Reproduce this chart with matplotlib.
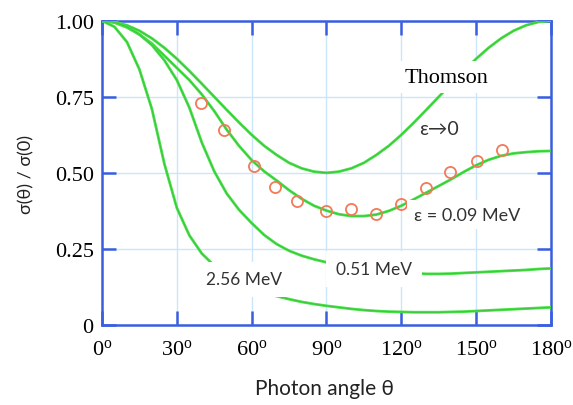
import numpy as np
import matplotlib
matplotlib.use('Agg')
from matplotlib import pyplot as plt

plt.rcParams['mathtext.fontset'] = 'custom'
plt.rcParams['mathtext.rm'] = 'Liberation Serif'

#Photon angle (deg) and sigma(theta)/sigma(0):
theta = [0, 5, 10, 15, 20, 25, 30, 35, 40, 45, 50, 55, 60, 65, 70, 75, 80, 85, 90,
         95, 100, 105, 110, 115, 120, 125, 130, 135, 140, 145, 150, 155, 160, 165, 170, 175, 180]
thomson = [1.000, 0.996, 0.985, 0.967, 0.942, 0.911, 0.875, 0.835, 0.793, 0.750, 0.707, 0.665, 0.625,
           0.589, 0.559, 0.533, 0.515, 0.504, 0.500, 0.504, 0.515, 0.533, 0.559, 0.589, 0.625,
           0.665, 0.707, 0.750, 0.793, 0.835, 0.875, 0.911, 0.942, 0.967, 0.985, 0.996, 1.000]
e009 = [1.000, 0.994, 0.978, 0.955, 0.925, 0.885, 0.845, 0.805, 0.758, 0.703, 0.642, 0.588, 0.542,
        0.505, 0.475, 0.443, 0.415, 0.392, 0.376, 0.364, 0.358, 0.358, 0.363, 0.375, 0.392,
        0.413, 0.435, 0.457, 0.479, 0.503, 0.525, 0.543, 0.556, 0.564, 0.568, 0.571, 0.572]
e051 = [1.000, 0.995, 0.980, 0.955, 0.920, 0.870, 0.805, 0.715, 0.600, 0.505, 0.432, 0.378, 0.335,
        0.296, 0.266, 0.244, 0.228, 0.216, 0.206, 0.198, 0.191, 0.185, 0.180, 0.176, 0.173,
        0.170, 0.168, 0.168, 0.169, 0.171, 0.173, 0.175, 0.177, 0.179, 0.181, 0.184, 0.186]
e256 = [1.000, 0.980, 0.930, 0.840, 0.710, 0.530, 0.385, 0.295, 0.235, 0.195, 0.165, 0.141, 0.122,
        0.107, 0.095, 0.085, 0.076, 0.069, 0.063, 0.058, 0.053, 0.049, 0.046, 0.044, 0.043,
        0.042, 0.042, 0.042, 0.043, 0.044, 0.046, 0.048, 0.050, 0.052, 0.054, 0.056, 0.058]

#Measured points at 0.09 MeV:
pt_theta = [39.5, 49, 61, 69.5, 78, 90, 100, 110, 120, 130, 139.5, 150.5, 160.5]
pt_ratio = [0.730, 0.641, 0.524, 0.455, 0.409, 0.376, 0.380, 0.365, 0.398, 0.451, 0.502, 0.539, 0.576]

xticks = [0, 30, 60, 90, 120, 150, 180]
yticks = [0, 0.25, 0.5, 0.75, 1.0]
ytick_labels = ['0', '0.25', '0.50', '0.75', '1.00']

green = '#46e046'
blue = '#3a5ee0'
sans = ['Lato', 'DejaVu Sans']

fig = plt.figure(figsize=(5.73, 4.06), dpi=100)
ax = fig.add_axes([0.178, 0.197, 0.7836, 0.7495])

#Curves: green with a thin dark core
for y in (thomson, e009, e051, e256):
    ax.plot(theta, y, color=green, lw=2.0, zorder=3)
    ax.plot(theta, y, color='#1f4f1f', lw=0.4, alpha=0.3, zorder=3)

ax.plot(pt_theta, pt_ratio, 'o', ms=8, mfc='none', mec='#f27a58', mew=1.3, zorder=4)

ax.set_xlim(0, 180)
ax.set_ylim(0, 1)
ax.set_xticks(xticks)
ax.set_xticklabels([r'$\mathrm{%d^{o}}$' % t for t in xticks])
ax.set_yticks(yticks)
ax.set_yticklabels(ytick_labels)
ax.grid(True, color='#cbe6fa', lw=1.0, zorder=0)
ax.set_axisbelow(True)
for s in ax.spines.values():
    s.set_color(blue)
    s.set_linewidth(1.8)
ax.tick_params(direction='in', length=10, width=1.8, color=blue, top=True, right=True,
               labelsize=16)
ax.tick_params(axis='x', pad=9)
ax.tick_params(axis='y', pad=6)
for lab in ax.get_yticklabels():
    lab.set_family('Liberation Serif')

#Curve labels with white boxes that cut the curves:
box = dict(facecolor='white', edgecolor='none', pad=5)
ax.text(138, 0.815, 'Thomson', family='Liberation Serif', fontsize=16, ha='center', va='center',
        bbox=box, zorder=5)
ax.text(135, 0.646, 'ε→0', family=sans, fontsize=14, ha='center', va='center', color='#333333', zorder=5)
ax.text(146.3, 0.363, 'ε = 0.09 MeV', family=sans, fontsize=13, ha='center', va='center',
        color='#333333', bbox=box, zorder=5)
ax.text(109, 0.184, '0.51 MeV', family=sans, fontsize=12.5, ha='center', va='center',
        color='#333333', bbox=dict(facecolor='white', edgecolor='none', pad=7), zorder=5)
ax.text(57, 0.150, '2.56 MeV', family=sans, fontsize=12.5, ha='center', va='center',
        color='#333333', bbox=dict(facecolor='white', edgecolor='none', pad=7), zorder=5)

fig.text(0.567, 1 - 389 / 406, 'Photon angle θ', family=sans, fontsize=15, ha='center', va='center',
         color='#222222')
fig.text(26 / 573, 1 - 174 / 406, 'σ(θ) / σ(0)', family=sans, fontsize=13, rotation=90,
         ha='center', va='center', color='#222222')

fig.savefig('out.png', dpi=100, facecolor='white')
